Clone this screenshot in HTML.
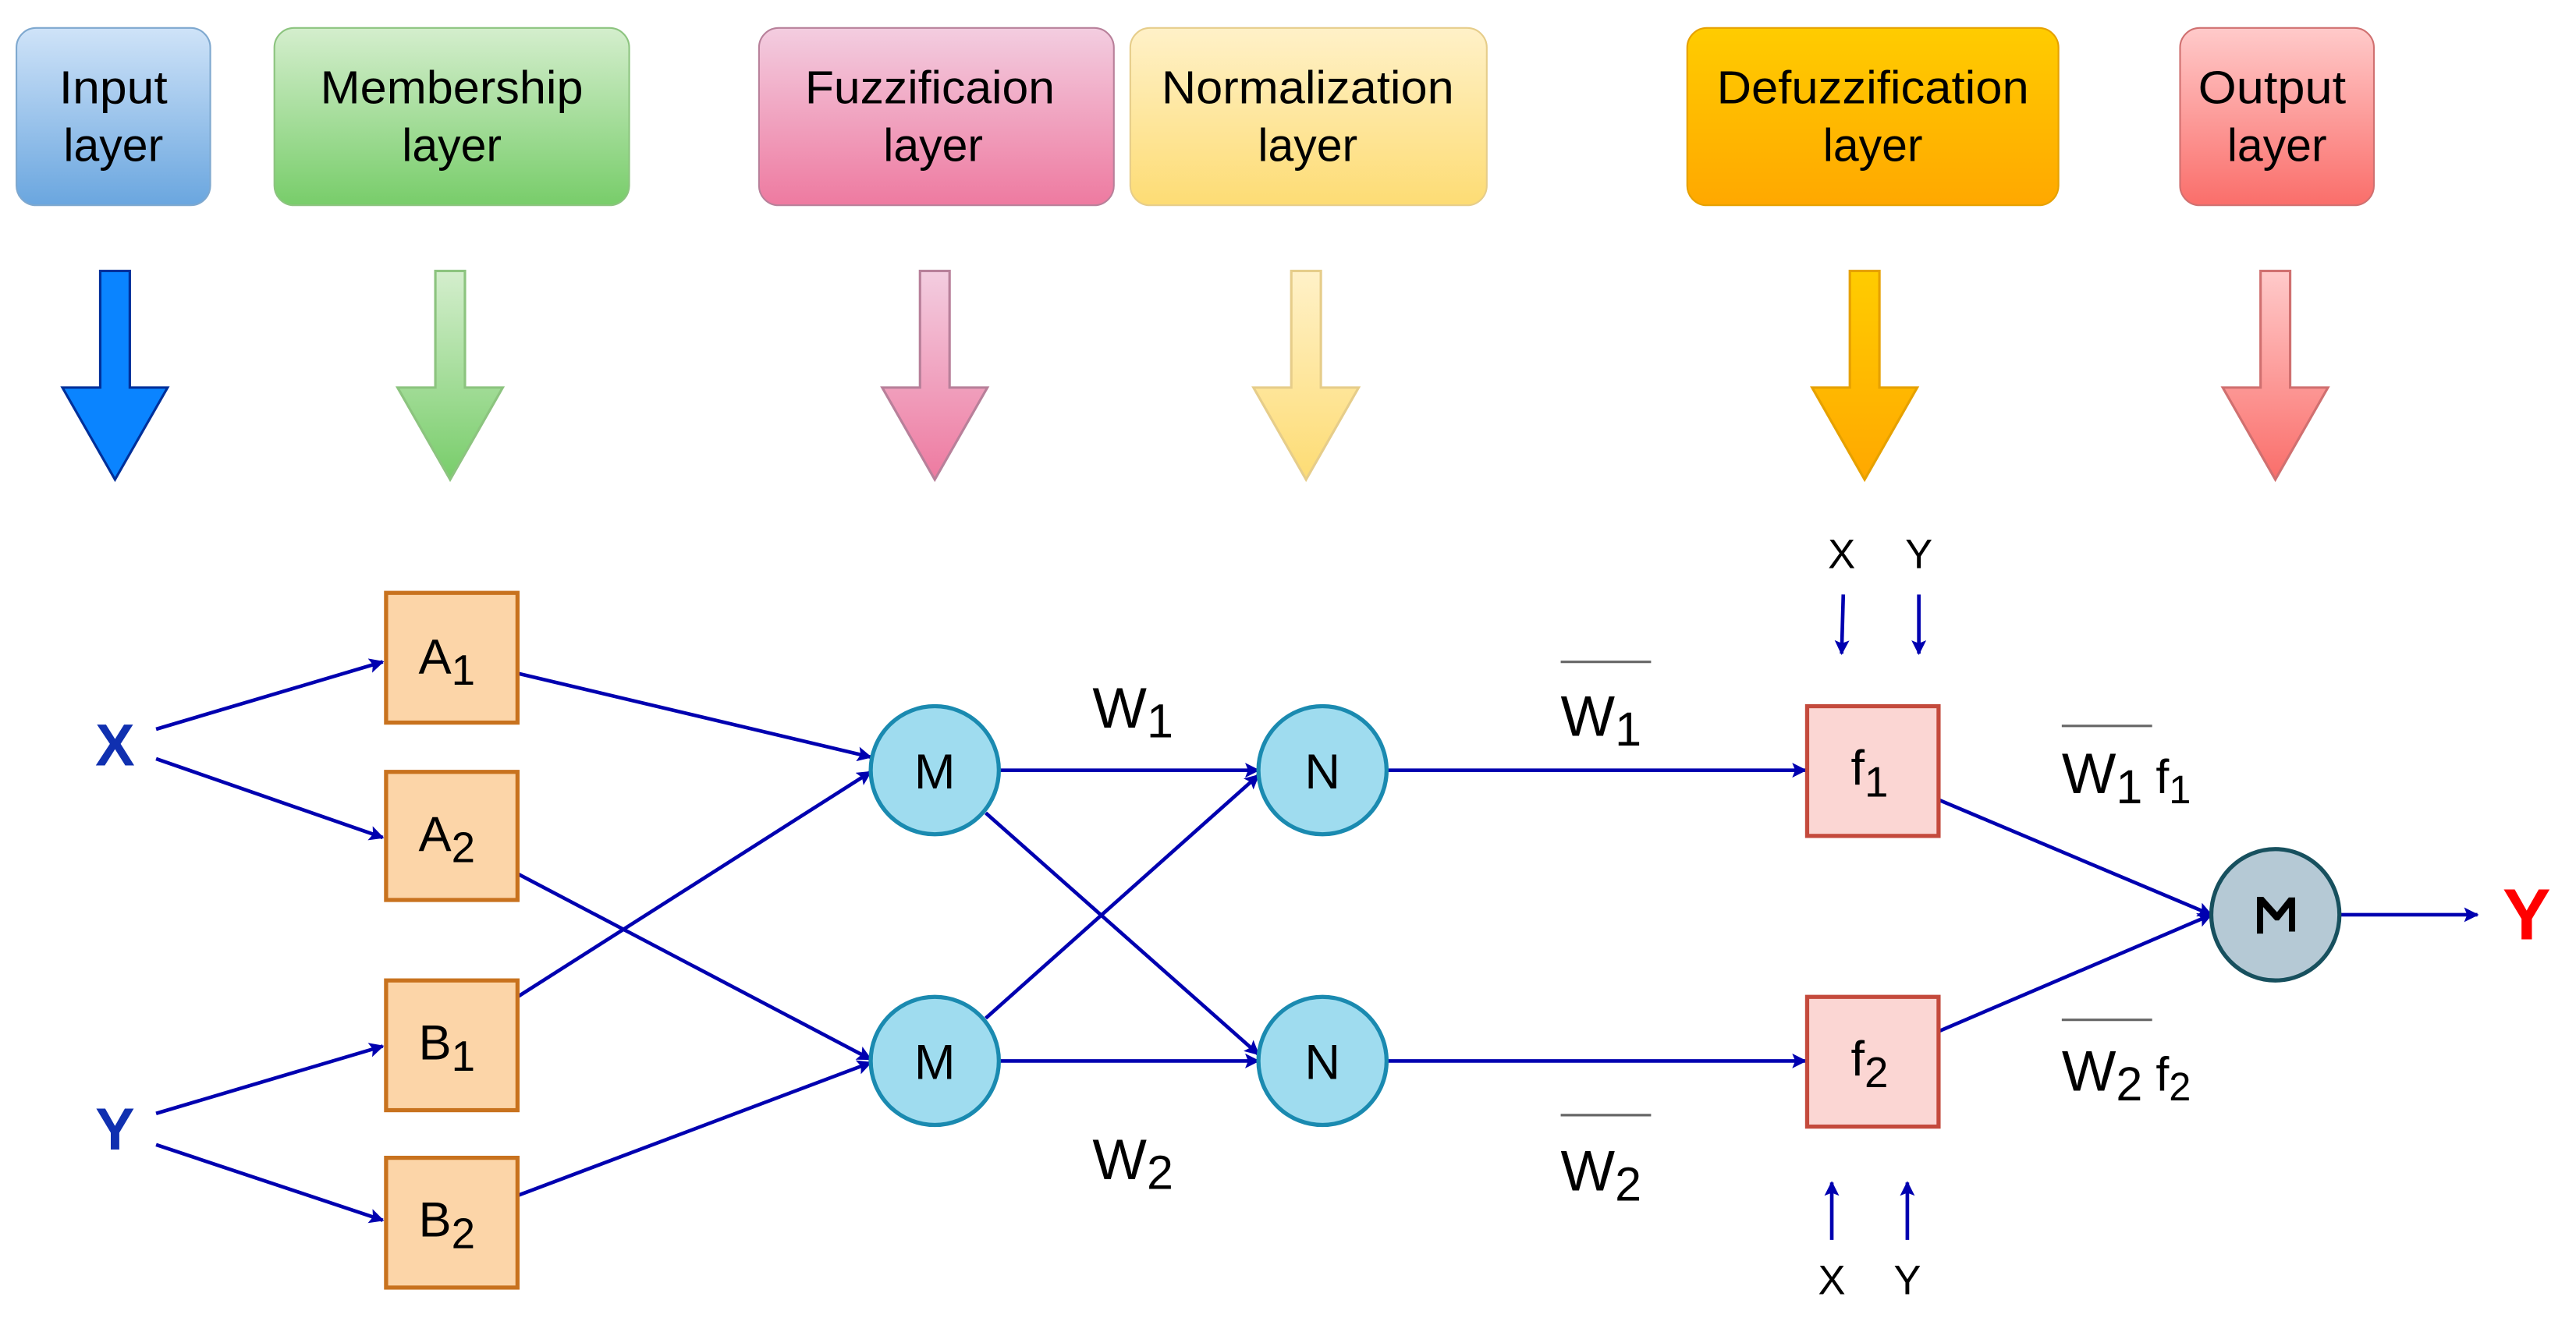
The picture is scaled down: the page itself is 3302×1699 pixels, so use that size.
<!DOCTYPE html>
<html><head><meta charset="utf-8"><style>
html,body{margin:0;padding:0;background:#fff;width:3302px;height:1699px;overflow:hidden}
svg{display:block}
text{font-family:"Liberation Sans",Arial,sans-serif}
</style></head><body>
<svg width="3302" height="1699" viewBox="0 0 1568 806.8" xmlns="http://www.w3.org/2000/svg">
<defs>
<linearGradient id="gb" x1="0" y1="0" x2="0" y2="1"><stop offset="0" stop-color="#cfe3f8"/><stop offset="1" stop-color="#6aa6df"/></linearGradient>
<linearGradient id="gg" x1="0" y1="0" x2="0" y2="1"><stop offset="0" stop-color="#d4eecd"/><stop offset="1" stop-color="#78cd6a"/></linearGradient>
<linearGradient id="gp" x1="0" y1="0" x2="0" y2="1"><stop offset="0" stop-color="#f3cde0"/><stop offset="1" stop-color="#ee7aa0"/></linearGradient>
<linearGradient id="gy" x1="0" y1="0" x2="0" y2="1"><stop offset="0" stop-color="#fff1c8"/><stop offset="1" stop-color="#fddc74"/></linearGradient>
<linearGradient id="go" x1="0" y1="0" x2="0" y2="1"><stop offset="0" stop-color="#ffcc00"/><stop offset="1" stop-color="#ffa800"/></linearGradient>
<linearGradient id="gr" x1="0" y1="0" x2="0" y2="1"><stop offset="0" stop-color="#ffcaca"/><stop offset="1" stop-color="#fa6e6a"/></linearGradient>
<marker id="m" viewBox="0 0 10 10" refX="9" refY="5" markerWidth="11" markerHeight="9" orient="auto" markerUnits="userSpaceOnUse"><path d="M0,0 L10,5 L0,10 L2,5 z" fill="#0000b0"/></marker>
</defs>

<g font-size="28" text-anchor="middle" fill="#000">
<rect x="10" y="17" width="118" height="108" rx="12" fill="url(#gb)" stroke="#7ea8cf" stroke-width="1"/>
<text x="69" y="63" textLength="66" lengthAdjust="spacingAndGlyphs">Input</text><text x="69" y="98">layer</text>
<rect x="167" y="17" width="216" height="108" rx="12" fill="url(#gg)" stroke="#8cc47f" stroke-width="1"/>
<text x="275" y="63" textLength="160" lengthAdjust="spacingAndGlyphs">Membership</text><text x="275" y="98">layer</text>
<rect x="462" y="17" width="216" height="108" rx="12" fill="url(#gp)" stroke="#b8809a" stroke-width="1"/>
<text x="566" y="63" textLength="152" lengthAdjust="spacingAndGlyphs">Fuzzificaion</text><text x="568" y="98">layer</text>
<rect x="688" y="17" width="217" height="108" rx="12" fill="url(#gy)" stroke="#e6cd8a" stroke-width="1"/>
<text x="796" y="63" textLength="178" lengthAdjust="spacingAndGlyphs">Normalization</text><text x="796" y="98">layer</text>
<rect x="1027" y="17" width="226" height="108" rx="12" fill="url(#go)" stroke="#e6a100" stroke-width="1"/>
<text x="1140" y="63" textLength="190" lengthAdjust="spacingAndGlyphs">Defuzzification</text><text x="1140" y="98">layer</text>
<rect x="1327" y="17" width="118" height="108" rx="12" fill="url(#gr)" stroke="#d07070" stroke-width="1"/>
<text x="1383" y="63" textLength="90" lengthAdjust="spacingAndGlyphs">Output</text><text x="1386" y="98">layer</text>
</g>

<g stroke-width="1.5">
<path d="M61,165 H79 V236 H102 L70,292 L38,236 H61 Z" fill="#0a84ff" stroke="#00309a"/>
<path d="M265,165 H283 V236 H306 L274,292 L242,236 H265 Z" fill="url(#gg)" stroke="#8cc47f"/>
<path d="M560,165 H578 V236 H601 L569,292 L537,236 H560 Z" fill="url(#gp)" stroke="#b8809a"/>
<path d="M786,165 H804 V236 H827 L795,292 L763,236 H786 Z" fill="url(#gy)" stroke="#e6cd8a"/>
<path d="M1126,165 H1144 V236 H1167 L1135,292 L1103,236 H1126 Z" fill="url(#go)" stroke="#e6a100"/>
<path d="M1376,165 H1394 V236 H1417 L1385,292 L1353,236 H1376 Z" fill="url(#gr)" stroke="#d07070"/>
</g>

<g stroke="#0000b0" stroke-width="2.2" fill="none" marker-end="url(#m)">
<line x1="95" y1="444" x2="233" y2="403"/>
<line x1="95" y1="462" x2="233" y2="510"/>
<line x1="95" y1="678" x2="233" y2="637"/>
<line x1="95" y1="697" x2="233" y2="743"/>
<line x1="315" y1="410" x2="530" y2="461"/>
<line x1="315" y1="532" x2="530" y2="645"/>
<line x1="315" y1="607" x2="530" y2="470"/>
<line x1="315" y1="728" x2="530" y2="647"/>
<line x1="608" y1="469" x2="766" y2="469"/>
<line x1="600" y1="495" x2="766" y2="642"/>
<line x1="600" y1="620" x2="766" y2="472"/>
<line x1="608" y1="646" x2="766" y2="646"/>
<line x1="845" y1="469" x2="1099" y2="469"/>
<line x1="845" y1="646" x2="1099" y2="646"/>
<line x1="1180" y1="487" x2="1346" y2="557"/>
<line x1="1180" y1="628" x2="1346" y2="557"/>
<line x1="1424" y1="557" x2="1508" y2="557"/>
<line x1="1122" y1="362" x2="1121" y2="398"/>
<line x1="1168" y1="362" x2="1168" y2="398"/>
<line x1="1115" y1="755" x2="1115" y2="720"/>
<line x1="1161" y1="755" x2="1161" y2="720"/>
</g>

<g stroke-width="2.5">
<rect x="235" y="361" width="80" height="79" fill="#fcd5a8" stroke="#c8721e"/>
<rect x="235" y="470" width="80" height="78" fill="#fcd5a8" stroke="#c8721e"/>
<rect x="235" y="597" width="80" height="79" fill="#fcd5a8" stroke="#c8721e"/>
<rect x="235" y="705" width="80" height="79" fill="#fcd5a8" stroke="#c8721e"/>
<circle cx="569" cy="469" r="39" fill="#9fdcef" stroke="#1a8ab0"/>
<circle cx="569" cy="646" r="39" fill="#9fdcef" stroke="#1a8ab0"/>
<circle cx="805" cy="469" r="39" fill="#9fdcef" stroke="#1a8ab0"/>
<circle cx="805" cy="646" r="39" fill="#9fdcef" stroke="#1a8ab0"/>
<rect x="1100" y="430" width="80" height="79" fill="#fbd6d3" stroke="#c44a3c"/>
<rect x="1100" y="607" width="80" height="79" fill="#fbd6d3" stroke="#c44a3c"/>
<ellipse cx="1385" cy="557" rx="39" ry="40" fill="#b5c9d5" stroke="#17505e"/>
</g>

<g font-size="30" fill="#000" text-anchor="middle">
<text x="272" y="410">A<tspan font-size="26" dy="7">1</tspan></text>
<text x="272" y="518">A<tspan font-size="26" dy="7">2</tspan></text>
<text x="272" y="645">B<tspan font-size="26" dy="7">1</tspan></text>
<text x="272" y="753">B<tspan font-size="26" dy="7">2</tspan></text>
<text x="569" y="480">M</text><text x="569" y="657">M</text>
<text x="805" y="480">N</text><text x="805" y="657">N</text>
<text x="1138" y="478">f<tspan font-size="26" dy="7">1</tspan></text>
<text x="1138" y="655">f<tspan font-size="26" dy="7">2</tspan></text>
</g>
<text x="0" y="0" font-weight="bold" font-size="34" text-anchor="middle" dominant-baseline="central" transform="translate(1385 557) rotate(90) scale(1.25 1)">Σ</text>
<g fill="#000" font-size="35">
<text x="665" y="443">W<tspan font-size="29" dy="6">1</tspan></text>
<text x="665" y="718">W<tspan font-size="29" dy="6">2</tspan></text>
<text x="950" y="448">W<tspan font-size="29" dy="6">1</tspan></text>
<text x="950" y="725">W<tspan font-size="29" dy="6">2</tspan></text>
<text x="1255" y="483">W<tspan font-size="29" dy="6">1</tspan><tspan font-size="29" dy="-6"> f</tspan><tspan font-size="24" dy="6">1</tspan></text>
<text x="1255" y="664">W<tspan font-size="29" dy="6">2</tspan><tspan font-size="29" dy="-6"> f</tspan><tspan font-size="24" dy="6">2</tspan></text>
</g>
<g stroke="#666" stroke-width="1.5">
<line x1="950" y1="403" x2="1005" y2="403"/>
<line x1="950" y1="679" x2="1005" y2="679"/>
<line x1="1255" y1="442" x2="1310" y2="442"/>
<line x1="1255" y1="621" x2="1310" y2="621"/>
</g>
<g font-size="25" fill="#000" text-anchor="middle">
<text x="1121" y="346">X</text><text x="1168" y="346">Y</text>
<text x="1115" y="788">X</text><text x="1161" y="788">Y</text>
</g>
<text x="70" y="466" font-size="36" font-weight="bold" fill="#1030b0" text-anchor="middle">X</text>
<text x="70" y="700" font-size="36" font-weight="bold" fill="#1030b0" text-anchor="middle">Y</text>
<text x="1538" y="572" font-size="44" font-weight="bold" fill="#ff0000" text-anchor="middle">Y</text>
</svg>
</body></html>
